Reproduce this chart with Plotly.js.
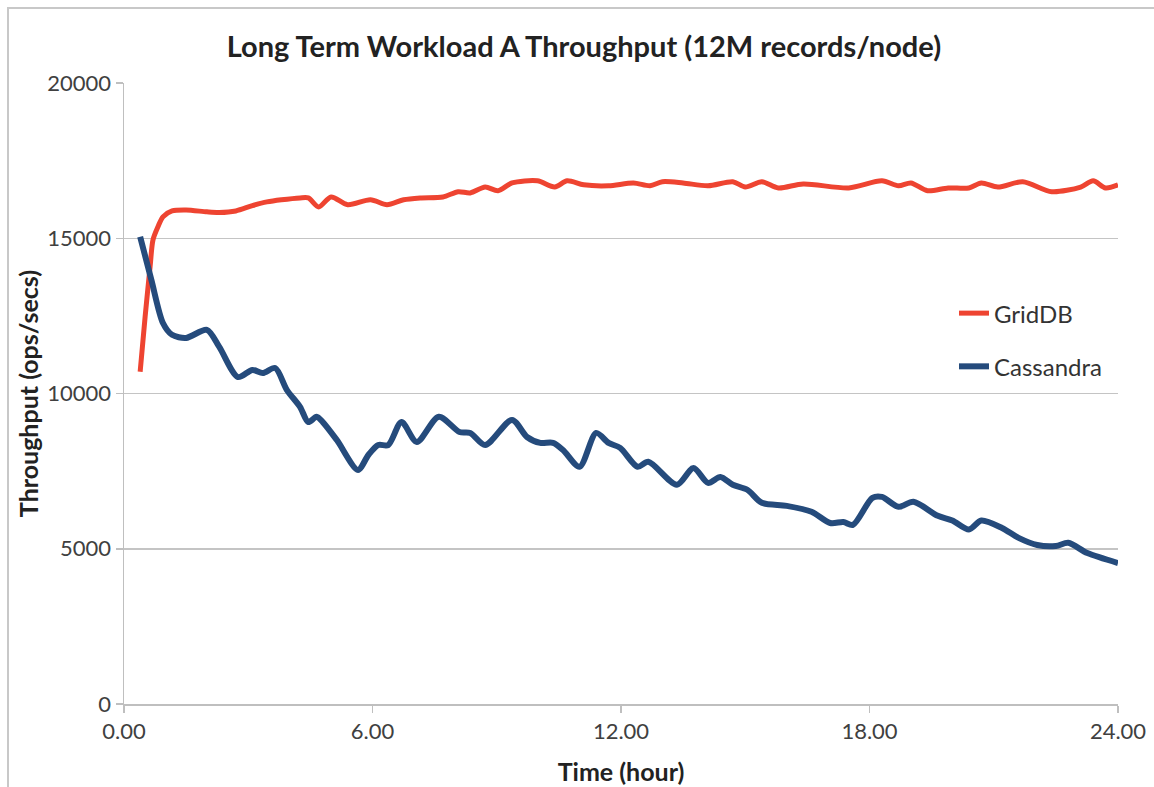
<!DOCTYPE html>
<html>
<head>
<meta charset="utf-8">
<script src="https://cdn.plot.ly/plotly-3.0.1.min.js"></script>
<style>
  html, body { margin: 0; padding: 0; background: #fff; }
  #chart { width: 1154px; height: 787px; }
</style>
</head>
<body>
<div id="chart"></div>
<script>
// Time (hour) and throughput (ops/secs)
const griddbHours = [0.39, 0.51, 0.63, 0.70, 0.82, 0.94, 1.16, 1.5, 2.0, 2.3, 2.7, 3.1, 3.45, 3.8, 4.25, 4.45, 4.7, 5.0, 5.4, 5.95, 6.35, 6.75, 7.15, 7.7, 8.07, 8.36, 8.72, 9.03, 9.37, 9.98, 10.4, 10.7, 11.1, 11.7, 12.3, 12.7, 13.0, 13.5, 14.1, 14.7, 15.0, 15.4, 15.8, 16.4, 17.5, 18.3, 18.7, 19.0, 19.4, 19.9, 20.4, 20.7, 21.1, 21.7, 22.4, 23.1, 23.4, 23.7, 24.0];
const griddbOps = [10700, 12470, 14080, 14950, 15370, 15690, 15880, 15910, 15850, 15830, 15880, 16050, 16170, 16240, 16300, 16300, 16010, 16330, 16080, 16240, 16080, 16240, 16300, 16330, 16500, 16460, 16650, 16530, 16780, 16850, 16650, 16850, 16720, 16690, 16780, 16690, 16820, 16780, 16690, 16820, 16650, 16820, 16620, 16750, 16620, 16850, 16690, 16780, 16530, 16620, 16620, 16780, 16650, 16820, 16500, 16650, 16850, 16620, 16720];

const cassandraHours = [0.39, 0.66, 0.94, 1.16, 1.5, 2.0, 2.3, 2.75, 3.1, 3.35, 3.65, 3.93, 4.25, 4.45, 4.65, 4.8, 5.14, 5.65, 5.9, 6.14, 6.38, 6.7, 7.07, 7.6, 8.1, 8.36, 8.72, 9.37, 9.73, 10.05, 10.36, 10.6, 11.0, 11.4, 11.7, 11.98, 12.4, 12.66, 13.35, 13.75, 14.1, 14.4, 14.7, 15.05, 15.4, 16.0, 16.6, 17.05, 17.37, 17.6, 18.07, 18.3, 18.7, 19.06, 19.65, 20.0, 20.4, 20.7, 21.2, 21.6, 22.05, 22.5, 22.8, 23.26, 24.0];
const cassandraOps = [15050, 13660, 12270, 11890, 11790, 12050, 11500, 10530, 10760, 10660, 10820, 10120, 9570, 9080, 9250, 9080, 8500, 7540, 8020, 8340, 8340, 9080, 8440, 9250, 8760, 8730, 8340, 9150, 8600, 8410, 8410, 8180, 7640, 8730, 8410, 8250, 7640, 7800, 7060, 7600, 7120, 7310, 7060, 6900, 6480, 6380, 6190, 5830, 5860, 5770, 6640, 6670, 6350, 6510, 6060, 5910, 5620, 5910, 5670, 5350, 5120, 5090, 5190, 4860, 4540];

const xTickVals = [0, 6, 12, 18, 24];
const xTickText = ['0.00', '6.00', '12.00', '18.00', '24.00'];
const yTickVals = [0, 5000, 10000, 15000, 20000];
const yTickText = ['0', '5000', '10000', '15000', '20000'];

const FONT = 'Lato, "Open Sans", sans-serif';

const traces = [
  {
    x: griddbHours, y: griddbOps, name: 'GridDB', type: 'scatter', mode: 'lines',
    line: { color: '#ee4431', width: 5, shape: 'spline', smoothing: 0.8 },
    legendgroup: 'g1'
  },
  {
    x: cassandraHours, y: cassandraOps, name: 'Cassandra', type: 'scatter', mode: 'lines',
    line: { color: '#254b7c', width: 6, shape: 'spline', smoothing: 0.8 },
    legendgroup: 'g2'
  }
];

const layout = {
  width: 1154, height: 787,
  margin: { l: 124, r: 36, t: 83, b: 83 },
  paper_bgcolor: '#ffffff', plot_bgcolor: '#ffffff',
  font: { family: FONT, color: '#404040' },
  title: {
    text: '<b>Long Term Workload A Throughput (12M records/node)</b>',
    font: { family: FONT, size: 29, color: '#222222' },
    x: 0.506, xref: 'container', xanchor: 'center',
    y: 1 - 47 / 787, yref: 'container', yanchor: 'middle'
  },
  xaxis: {
    range: [0, 24], tickvals: xTickVals, ticktext: xTickText,
    showgrid: false, zeroline: false,
    showline: true, linecolor: '#bfbfbf', linewidth: 1.5,
    ticks: 'outside', ticklen: 7, tickcolor: '#bfbfbf', tickwidth: 1.5,
    tickfont: { family: FONT, size: 22, color: '#404040' },
    title: { text: '<b>Time (hour)</b>', font: { family: FONT, size: 25, color: '#222222' }, standoff: 20 },
    fixedrange: true
  },
  yaxis: {
    range: [0, 20000], tickvals: yTickVals, ticktext: yTickText,
    showgrid: true, gridcolor: '#c4c4c4', gridwidth: 1.5,
    zeroline: false,
    showline: true, linecolor: '#bfbfbf', linewidth: 1.5,
    ticks: 'outside', ticklen: 7, tickcolor: '#bfbfbf', tickwidth: 1.5,
    tickfont: { family: FONT, size: 22, color: '#404040' },
    title: { text: '<b>Throughput (ops/secs)</b>', font: { family: FONT, size: 25, color: '#222222' }, standoff: 1 },
    fixedrange: true
  },
  showlegend: true,
  legend: {
    x: 0.835, xanchor: 'left', y: 0.665, yanchor: 'top',
    font: { family: FONT, size: 24, color: '#333333' },
    bgcolor: 'rgba(0,0,0,0)', borderwidth: 0,
    tracegroupgap: 19, traceorder: 'grouped'
  },
  shapes: [
    {
      type: 'rect', xref: 'paper', yref: 'paper',
      x0: -116 / 994, x1: 1.05, y0: -0.2, y1: 1 + 75 / 621,
      line: { color: '#c8c8c8', width: 2 }, fillcolor: 'rgba(0,0,0,0)', layer: 'below'
    }
  ]
};

Plotly.newPlot('chart', traces, layout, { displayModeBar: false, staticPlot: true });
</script>
</body>
</html>
